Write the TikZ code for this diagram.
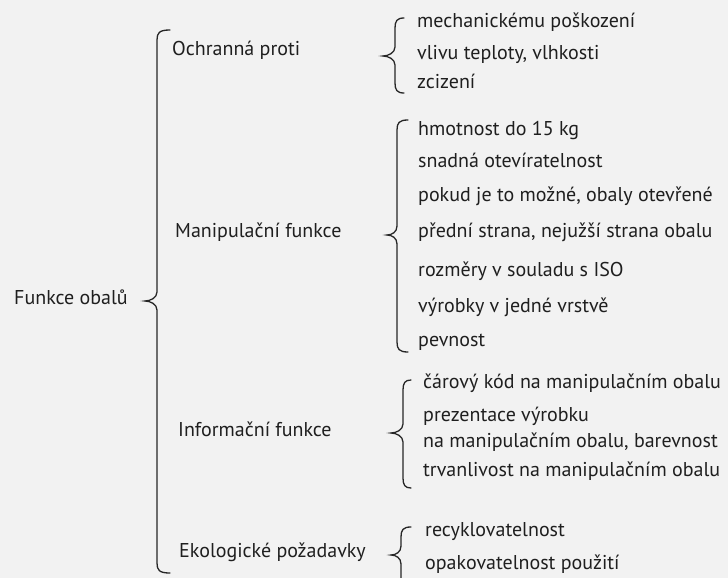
\documentclass[tikz,border=0pt]{standalone}
\usepackage{fontspec}
\setmainfont{PT Sans}
\begin{document}
\begin{tikzpicture}[x=1pt,y=-1pt,
  label/.style={anchor=west,inner sep=0pt,text height=13.5pt,text depth=4.5pt,font=\fontsize{20}{23}\selectfont,text=black!88},
  bracepath/.style={line width=1.3pt,draw=black!85,line cap=round}]
% page
\fill[black!5] (0,0) rectangle (728,578);
\useasboundingbox (0,0) rectangle (728,578);

% brace: #1 = spine x, #2 = top y, #3 = tip y, #4 = bottom y, #5 = tip x, #6 = hook end x
\newcommand\groupbrace[6]{%
  \draw[bracepath] (#6,#2) .. controls (#1+2,#2) and (#1,#2+3) .. (#1,#2+10)
    -- (#1,#3-9) .. controls (#1,#3-3) and (#5+5,#3) .. (#5,#3)
    .. controls (#5+5,#3) and (#1,#3+3) .. (#1,#3+9)
    -- (#1,#4-10) .. controls (#1,#4-3) and (#1+2,#4) .. (#6,#4);}

% root and main brace
\node[label] (root) at (14,300) {Funkce obalů};
\groupbrace{157}{30}{301}{573}{145}{170}

% first level
\node[label] (ochr)  at (172,51)  {Ochranná proti};
\node[label] (manip) at (175,233) {Manipulační funkce};
\node[label] (info)  at (178,432) {Informační funkce};
\node[label] (eko)   at (179,553) {Ekologické požadavky};

% protection
\groupbrace{395}{18}{56}{93}{383}{404}
\node[label] (p1) at (417,23) {mechanickému poškození};
\node[label] (p2) at (417,55) {vlivu teploty, vlhkosti};
\node[label] (p3) at (417,84) {zcizení};

% handling
\groupbrace{397}{120}{235}{352}{387}{408}
\node[label] (m1) at (418,131) {hmotnost do 15 kg};
\node[label] (m2) at (418,163) {snadná otevíratelnost};
\node[label] (m3) at (418,197) {pokud je to možné, obaly otevřené};
\node[label] (m4) at (418,233) {přední strana, nejužší strana obalu};
\node[label] (m5) at (418,272) {rozměry v souladu s ISO};
\node[label] (m6) at (418,308) {výrobky v jedné vrstvě};
\node[label] (m7) at (418,342) {pevnost};

% information
\groupbrace{403}{380}{433}{488}{391}{411}
\node[label] (i1) at (423,384) {čárový kód na manipulačním obalu};
\node[label] (i2) at (423,417) {prezentace výrobku};
\node[label] (i3) at (423,443) {na manipulačním obalu, barevnost};
\node[label] (i4) at (423,472) {trvanlivost na manipulačním obalu};

% ecology
\groupbrace{401}{527}{555}{590}{391}{411}
\node[label] (e1) at (425,532) {recyklovatelnost};
\node[label] (e2) at (425,565) {opakovatelnost použití};
\end{tikzpicture}
\end{document}
